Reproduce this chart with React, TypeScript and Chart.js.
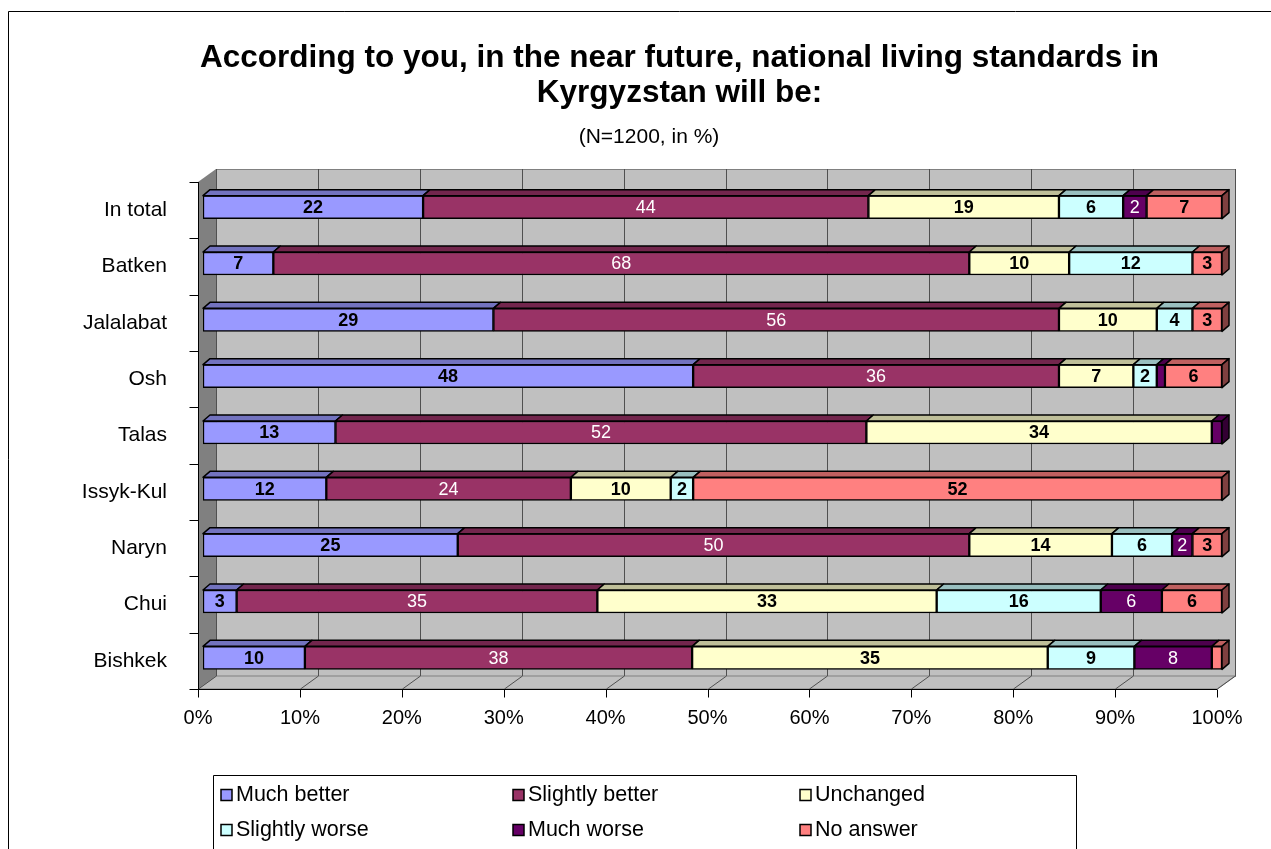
import React, { useEffect, useRef } from "react";
import { Chart, registerables } from "chart.js";

Chart.register(...registerables);

const FONT = "'Liberation Sans', Arial, sans-serif";

const titleLines = [
  "According to you, in the near future, national living standards in",
  "Kyrgyzstan will be:",
];
const subtitleText = "(N=1200, in %)";

const categories = ["In total", "Batken", "Jalalabat", "Osh", "Talas", "Issyk-Kul", "Naryn", "Chui", "Bishkek"];
const seriesNames = ["Much better", "Slightly better", "Unchanged", "Slightly worse", "Much worse", "No answer"];

const muchBetter = [21.6, 6.9, 28.5, 48.1, 13.0, 12.1, 25.0, 3.3, 10.0];
const slightlyBetter = [43.7, 68.3, 55.5, 35.9, 52.1, 24.0, 50.2, 35.4, 38.0];
const unchanged = [18.7, 9.8, 9.6, 7.3, 33.9, 9.8, 14.0, 33.3, 34.9];
const slightlyWorse = [6.3, 12.1, 3.5, 2.3, 0, 2.2, 5.9, 16.1, 8.5];
const muchWorse = [2.3, 0, 0, 0.8, 1.0, 0, 2.0, 6.0, 7.6];
const noAnswer = [7.4, 2.9, 2.9, 5.6, 0, 51.9, 2.9, 5.9, 1.0];

const xTickValues = [0, 10, 20, 30, 40, 50, 60, 70, 80, 90, 100];

const frontColors = ["#9999FF", "#993366", "#FFFFCC", "#CCFFFF", "#660066", "#FF8080"];
const topColors = ["#7373BF", "#73264D", "#BFBF99", "#99BFBF", "#4D004D", "#BF6060"];
const sideColors = ["#4D4D80", "#4D1A33", "#808066", "#668080", "#330033", "#804040"];
const labelWhite = [false, true, false, false, true, false];

const seriesValues = [muchBetter, slightlyBetter, unchanged, slightlyWorse, muchWorse, noAnswer];

const DEPTH_BAR_X = 7;
const DEPTH_BAR_Y = -6;
const WALL_DX = 18;
const WALL_DY = -13;

const bg3dPlugin = {
  id: "bg3d",
  beforeDatasetsDraw(chart: any) {
    const { ctx, chartArea: a, scales } = chart;
    const x = scales.x;
    const fx = (v: number) => x.getPixelForValue(v) - 5;
    const fTop = a.top + 3;
    const fBot = a.bottom + 3;
    const fL = fx(0);
    const fR = fx(100);
    const bL = fL + WALL_DX;
    const bR = fR + WALL_DX;
    const bTop = fTop + WALL_DY;
    const bBot = fBot + WALL_DY;
    ctx.save();
    ctx.fillStyle = "#C0C0C0";
    ctx.fillRect(bL, bTop, bR - bL, bBot - bTop);
    ctx.strokeStyle = "#808080";
    ctx.lineWidth = 1;
    ctx.strokeRect(Math.round(bL) + 0.5, Math.round(bTop) + 0.5, Math.round(bR - bL), Math.round(bBot - bTop));
    ctx.fillStyle = "#808080";
    ctx.beginPath();
    ctx.moveTo(fL, fTop);
    ctx.lineTo(bL, bTop);
    ctx.lineTo(bL, bBot);
    ctx.lineTo(fL, fBot);
    ctx.closePath();
    ctx.fill();
    ctx.fillStyle = "#C0C0C0";
    ctx.beginPath();
    ctx.moveTo(fL, fBot);
    ctx.lineTo(fR, fBot);
    ctx.lineTo(bR, bBot);
    ctx.lineTo(bL, bBot);
    ctx.closePath();
    ctx.fill();
    ctx.strokeStyle = "#808080";
    ctx.stroke();
    ctx.strokeStyle = "#505050";
    ctx.lineWidth = 1;
    for (const v of xTickValues) {
      const px = Math.round(fx(v)) + 0.5;
      ctx.beginPath();
      ctx.moveTo(px + WALL_DX, bTop);
      ctx.lineTo(px + WALL_DX, bBot);
      ctx.lineTo(px, fBot);
      ctx.stroke();
    }
    ctx.strokeStyle = "#000";
    ctx.lineWidth = 1;
    const axX = Math.round(fL) + 0.5;
    const axY = Math.round(fBot) + 0.5;
    ctx.beginPath();
    ctx.moveTo(axX, fTop);
    ctx.lineTo(axX, axY);
    ctx.lineTo(fR, axY);
    ctx.stroke();
    const n = categories.length;
    const band = (fBot - fTop) / n;
    for (let j = 0; j <= n; j++) {
      const ty = Math.round(fTop + j * band) + 0.5;
      ctx.beginPath();
      ctx.moveTo(axX - 9, ty);
      ctx.lineTo(axX, ty);
      ctx.stroke();
    }
    for (const v of xTickValues) {
      const px = Math.round(fx(v)) + 0.5;
      ctx.beginPath();
      ctx.moveTo(px, axY);
      ctx.lineTo(px, axY + 8);
      ctx.stroke();
    }
    ctx.restore();
  },
};

const barFacesPlugin = {
  id: "barFaces",
  afterDatasetsDraw(chart: any) {
    const { ctx } = chart;
    ctx.save();
    ctx.lineWidth = 1.5;
    ctx.strokeStyle = "#000";
    ctx.lineJoin = "round";
    const lastEl: any[] = [];
    const lastIdx: number[] = [];
    chart.data.datasets.forEach((ds: any, i: number) => {
      const meta = chart.getDatasetMeta(i);
      meta.data.forEach((el: any, j: number) => {
        const v = seriesValues[i][j];
        if (!v) return;
        const p = el.getProps(["x", "y", "base", "height"], true);
        const x0 = Math.min(p.x, p.base);
        const x1 = Math.max(p.x, p.base);
        const yT = p.y - p.height / 2;
        ctx.fillStyle = topColors[i];
        ctx.beginPath();
        ctx.moveTo(x0, yT);
        ctx.lineTo(x0 + DEPTH_BAR_X, yT + DEPTH_BAR_Y);
        ctx.lineTo(x1 + DEPTH_BAR_X, yT + DEPTH_BAR_Y);
        ctx.lineTo(x1, yT);
        ctx.closePath();
        ctx.fill();
        ctx.stroke();
        lastEl[j] = p;
        lastIdx[j] = i;
      });
    });
    lastEl.forEach((p: any, j: number) => {
      if (!p) return;
      const x1 = Math.max(p.x, p.base);
      const yT = p.y - p.height / 2;
      const yB = p.y + p.height / 2;
      ctx.fillStyle = sideColors[lastIdx[j]];
      ctx.beginPath();
      ctx.moveTo(x1, yT);
      ctx.lineTo(x1 + DEPTH_BAR_X, yT + DEPTH_BAR_Y);
      ctx.lineTo(x1 + DEPTH_BAR_X, yB + DEPTH_BAR_Y);
      ctx.lineTo(x1, yB);
      ctx.closePath();
      ctx.fill();
      ctx.stroke();
    });
    ctx.textAlign = "center";
    ctx.textBaseline = "middle";
    chart.data.datasets.forEach((ds: any, i: number) => {
      const meta = chart.getDatasetMeta(i);
      meta.data.forEach((el: any, j: number) => {
        const v = seriesValues[i][j];
        if (!v || v < 1.5) return;
        const p = el.getProps(["x", "y", "base"], true);
        const white = labelWhite[i];
        ctx.font = (white ? "normal " : "bold ") + "18px " + FONT;
        ctx.fillStyle = white ? "#FFFFFF" : "#000000";
        ctx.fillText(String(Math.round(v)), (p.x + p.base) / 2, p.y + 1);
      });
    });
    ctx.restore();
  },
};

const decorPlugin = {
  id: "decor",
  afterDraw(chart: any) {
    const { ctx, width, height } = chart;
    ctx.save();
    ctx.strokeStyle = "#000";
    ctx.lineWidth = 1;
    ctx.beginPath();
    ctx.moveTo(0.5, height);
    ctx.lineTo(0.5, 3.5);
    ctx.lineTo(width, 3.5);
    ctx.stroke();
    ctx.fillStyle = "#000";
    ctx.font = "21px " + FONT;
    ctx.textAlign = "center";
    ctx.textBaseline = "middle";
    ctx.fillText(subtitleText, 641, 129);
    const lx = 205.5;
    const ly = 767.5;
    ctx.strokeStyle = "#000";
    ctx.beginPath();
    ctx.moveTo(lx, height);
    ctx.lineTo(lx, ly);
    ctx.lineTo(1068.5, ly);
    ctx.lineTo(1068.5, height);
    ctx.stroke();
    const colX = [213, 505, 792];
    const rowY = [787, 822];
    ctx.textAlign = "left";
    ctx.font = "21.5px " + FONT;
    seriesNames.forEach((name, i) => {
      const cx = colX[i % 3];
      const cy = rowY[Math.floor(i / 3)];
      ctx.fillStyle = frontColors[i];
      ctx.fillRect(cx, cy - 5.5, 11, 11);
      ctx.lineWidth = 1.5;
      ctx.strokeStyle = "#000";
      ctx.strokeRect(cx, cy - 5.5, 11, 11);
      ctx.fillStyle = "#000";
      ctx.fillText(name, cx + 15, cy);
    });
    ctx.restore();
  },
};

export default function App() {
  const ref = useRef<HTMLCanvasElement>(null);
  useEffect(() => {
    if (!ref.current) return;
    Chart.defaults.font.family = FONT;
    Chart.defaults.color = "#000";
    const chart = new Chart(ref.current, {
      type: "bar",
      data: {
        labels: categories,
        datasets: seriesNames.map((name, i) => ({
          label: name,
          data: seriesValues[i].map((v) => (v === 0 ? null : v)),
          backgroundColor: frontColors[i],
          borderColor: "#000",
          borderWidth: 1.5,
          borderSkipped: false,
          barThickness: 23,
        })),
      },
      options: {
        indexAxis: "y",
        responsive: false,
        animation: false,
        devicePixelRatio: 1,
        layout: { padding: 0 },
        scales: {
          x: {
            stacked: true,
            min: 0,
            max: 100,
            grid: { display: false, drawTicks: false },
            border: { display: false },
            ticks: {
              stepSize: 10,
              padding: 20,
              labelOffset: -5,
              color: "#000",
              font: { size: 20, family: FONT },
              callback: (v: any) => v + "%",
            },
            afterFit: (s: any) => {
              s.height = 222;
            },
          },
          y: {
            stacked: true,
            grid: { display: false, drawTicks: false },
            border: { display: false },
            ticks: {
              padding: 36,
              labelOffset: 3,
              color: "#000",
              font: { size: 21, family: FONT },
            },
            afterFit: (s: any) => {
              s.width = 195;
            },
          },
          spacer: {
            type: "linear",
            position: "right",
            display: true,
            grid: { display: false, drawTicks: false },
            border: { display: false },
            ticks: { display: false },
            afterFit: (s: any) => {
              s.width = 129;
            },
          },
        },
        plugins: {
          legend: { display: false },
          tooltip: { enabled: false },
          title: {
            display: true,
            text: titleLines,
            color: "#000",
            font: { size: 31.5, weight: "bold", family: FONT, lineHeight: 35 / 31.5 },
            padding: { top: 33, bottom: 68 },
          },
        },
      },
      plugins: [bg3dPlugin, barFacesPlugin, decorPlugin],
    } as any);
    return () => chart.destroy();
  }, []);
  return (
    <div
      style={{
        position: "fixed",
        left: 8,
        top: 8,
        width: 1263,
        height: 841,
        overflow: "hidden",
        background: "#fff",
      }}
    >
      <canvas ref={ref} width={1343} height={900} style={{ display: "block", width: 1343, height: 900 }} />
    </div>
  );
}
